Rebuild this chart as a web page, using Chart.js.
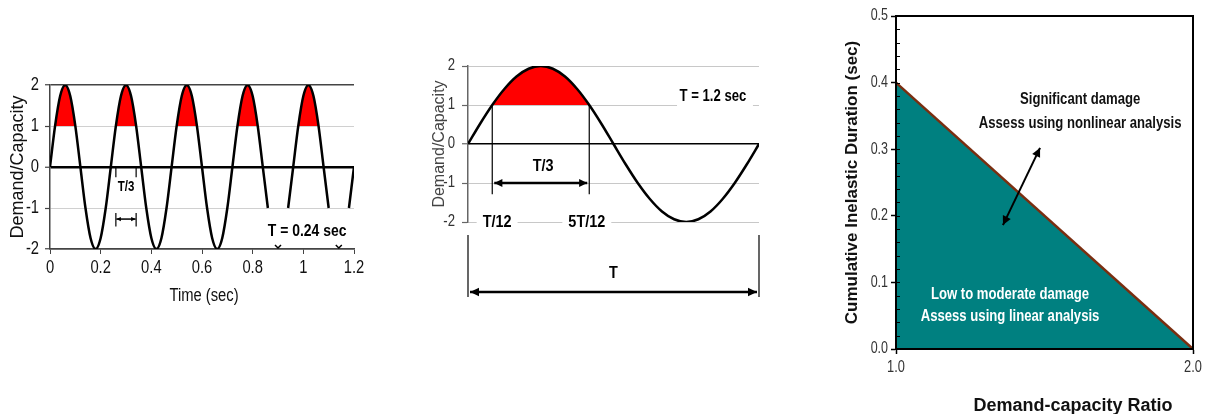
<!DOCTYPE html>
<html>
<head>
<meta charset="utf-8">
<script src="https://cdn.jsdelivr.net/npm/chart.js@4.4.1/dist/chart.umd.min.js"></script>
<style>
    html, body { margin: 0; padding: 0; background: #fff; }
    body { width: 1208px; height: 414px; position: relative; overflow: hidden; }
    canvas { position: absolute; }
    #short-period { left: 0; top: 60px; }
    #long-period { left: 420px; top: 40px; }
    #damage-chart { left: 820px; top: 0; }
</style>
</head>
<body>
<canvas id="short-period" width="370" height="250"></canvas>
<canvas id="long-period" width="380" height="270"></canvas>
<canvas id="damage-chart" width="388" height="414"></canvas>
<script>
const SANS = "'Liberation Sans', Arial, sans-serif";

// left chart, T = 0.24 sec
const timeA = [0, 0.02, 0.04, 0.06, 0.08, 0.1, 0.12, 0.14, 0.16, 0.18, 0.2, 0.22,
    0.24, 0.26, 0.28, 0.3, 0.32, 0.34, 0.36, 0.38, 0.4, 0.42, 0.44, 0.46,
    0.48, 0.5, 0.52, 0.54, 0.56, 0.58, 0.6, 0.62, 0.64, 0.66, 0.68, 0.7,
    0.72, 0.74, 0.76, 0.78, 0.8, 0.82, 0.84, 0.86, 0.88, 0.9, 0.92, 0.94,
    0.96, 0.98, 1, 1.02, 1.04, 1.06, 1.08, 1.1, 1.12, 1.14, 1.16, 1.18, 1.2];
const ratioA = [0, 1, 1.73, 2, 1.73, 1, 0, -1, -1.73, -2, -1.73, -1,
    0, 1, 1.73, 2, 1.73, 1, 0, -1, -1.73, -2, -1.73, -1,
    0, 1, 1.73, 2, 1.73, 1, 0, -1, -1.73, -2, -1.73, -1,
    0, 1, 1.73, 2, 1.73, 1, 0, -1, null, null, null, -1,
    0, 1, 1.73, 2, 1.73, 1, 0, -1, null, null, null, -1, 0];
const timeTicksA = [0, 0.2, 0.4, 0.6, 0.8, 1, 1.2];
const ratioTicks = [-2, -1, 0, 1, 2];

// middle chart, T = 1.2 sec
const timeB = [0, 0.05, 0.1, 0.15, 0.2, 0.25, 0.3, 0.35, 0.4, 0.45, 0.5, 0.55, 0.6,
    0.65, 0.7, 0.75, 0.8, 0.85, 0.9, 0.95, 1, 1.05, 1.1, 1.15, 1.2];
const ratioB = [0, 0.52, 1, 1.41, 1.73, 1.93, 2, 1.93, 1.73, 1.41, 1, 0.52, 0,
    -0.52, -1, -1.41, -1.73, -1.93, -2, -1.93, -1.73, -1.41, -1, -0.52, 0];

// right chart
const dcRatio = [1.0, 2.0];
const inelasticDur = [0.4, 0.0];
const dcTicks = [1.0, 2.0];
const durTicks = [0, 0.1, 0.2, 0.3, 0.4, 0.5];

function arrow(ctx, x1, y1, x2, y2, both, head) {
    ctx.beginPath();
    ctx.moveTo(x1, y1);
    ctx.lineTo(x2, y2);
    ctx.stroke();
    const a = Math.atan2(y2 - y1, x2 - x1);
    const tip = (x, y, ang) => {
        ctx.beginPath();
        ctx.moveTo(x, y);
        ctx.lineTo(x - head * Math.cos(ang - 0.45), y - head * Math.sin(ang - 0.45));
        ctx.lineTo(x - head * Math.cos(ang + 0.45), y - head * Math.sin(ang + 0.45));
        ctx.closePath();
        ctx.fill();
    };
    tip(x2, y2, a);
    if (both) tip(x1, y1, a + Math.PI);
}

// text squeezed sideways, the original figure uses a narrow face
function label(ctx, text, x, y, font, color, opts) {
    opts = opts || {};
    const sx = opts.sx || 0.82;
    ctx.save();
    ctx.font = font;
    ctx.textAlign = opts.align || "center";
    ctx.textBaseline = "middle";
    if (opts.pad) {
        const w = ctx.measureText(text).width * sx;
        ctx.fillStyle = "#fff";
        ctx.fillRect(x - w / 2 - opts.pad, y - 9, w + 2 * opts.pad, 18);
    }
    ctx.translate(x, y);
    ctx.scale(sx, 1);
    ctx.fillStyle = color || "#000";
    ctx.fillText(text, 0, 0);
    ctx.restore();
}

function tickLabels(ctx, scale, font, color, gap, sx, fmt) {
    scale.ticks.forEach((t) => {
        const p = scale.getPixelForValue(t.value);
        if (scale.isHorizontal()) {
            label(ctx, fmt(t.value), p, scale.top + gap, font, color, { sx });
        } else {
            label(ctx, fmt(t.value), scale.right - gap, p, font, color, { sx, align: "right" });
        }
    });
}

const setTicks = (arr) => (s) => { s.ticks = arr.map((v) => ({ value: v })); };

// ---------- left chart
const notesA = {
    id: "notesA",
    afterDatasetsDraw(chart) {
        const { ctx, scales: { x, y } } = chart;
        tickLabels(ctx, x, "18px " + SANS, "#111", 19, 0.82, (v) => String(v));
        tickLabels(ctx, y, "18px " + SANS, "#111", 11, 0.82, (v) => String(v));
        label(ctx, "Time (sec)", (x.left + x.right) / 2 + 2, x.top + 47, "18px " + SANS, "#111");

        ctx.save();
        ctx.strokeStyle = "#000";
        ctx.fillStyle = "#000";
        ctx.lineWidth = 1.2;
        [0.26, 0.34].forEach((t) => {
            const px = x.getPixelForValue(t);
            ctx.beginPath();
            ctx.moveTo(px, y.getPixelForValue(0));
            ctx.lineTo(px, y.getPixelForValue(-0.25));
            ctx.moveTo(px, y.getPixelForValue(-1.12));
            ctx.lineTo(px, y.getPixelForValue(-1.45));
            ctx.stroke();
        });
        ctx.lineWidth = 1.5;
        arrow(ctx, x.getPixelForValue(0.262), y.getPixelForValue(-1.27),
            x.getPixelForValue(0.338), y.getPixelForValue(-1.27), true, 5);
        label(ctx, "T/3", x.getPixelForValue(0.3), y.getPixelForValue(-0.48), "bold 14px " + SANS);
        label(ctx, "T = 0.24 sec", x.getPixelForValue(1.015), y.getPixelForValue(-1.58), "bold 17px " + SANS);
        [0.9, 1.14].forEach((t) => {
            const px = x.getPixelForValue(t);
            const py = y.getPixelForValue(-2);
            ctx.beginPath();
            ctx.moveTo(px - 3, py - 4);
            ctx.lineTo(px, py - 1);
            ctx.lineTo(px + 3, py - 4);
            ctx.stroke();
        });
        ctx.restore();
    },
};

new Chart(document.getElementById("short-period"), {
    type: "line",
    data: {
        datasets: [{
            data: timeA.map((t, i) => ({ x: t, y: ratioA[i] })),
            borderColor: "#000",
            borderWidth: 2.5,
            pointRadius: 0,
            cubicInterpolationMode: "monotone",
            spanGaps: false,
            fill: { target: { value: 1 }, above: "#ff0000", below: "rgba(0,0,0,0)" },
        }],
    },
    options: {
        responsive: false,
        animation: false,
        layout: { padding: { top: 25, right: 16, left: 0, bottom: 0 } },
        scales: {
            x: {
                type: "linear", min: 0, max: 1.2,
                afterBuildTicks: setTicks(timeTicksA),
                afterFit: (s) => { s.height = 61; },
                ticks: { display: false },
                grid: { drawOnChartArea: false, tickLength: 5, tickColor: "#444" },
                border: { display: true, color: "#444", width: 1.5 },
            },
            y: {
                min: -2, max: 2,
                afterBuildTicks: setTicks(ratioTicks),
                afterFit: (s) => { s.width = 50; },
                ticks: { display: false },
                grid: {
                    color: (c) => c.tick && c.tick.value === 0 ? "#000" : c.tick && Math.abs(c.tick.value) === 2 ? "#444" : "#d0d0d0",
                    lineWidth: (c) => c.tick && c.tick.value === 0 ? 2.5 : c.tick && Math.abs(c.tick.value) === 2 ? 1.5 : 1,
                    tickColor: "#444", tickWidth: 1.2, tickLength: 5,
                },
                border: { display: true, color: "#444", width: 1.5 },
                title: { display: true, text: "Demand/Capacity", font: { size: 18, family: SANS }, color: "#111", padding: { top: 7, bottom: 0 } },
            },
        },
        plugins: { legend: { display: false }, tooltip: { enabled: false } },
    },
    plugins: [notesA],
});

// ---------- middle chart
const notesB = {
    id: "notesB",
    afterDatasetsDraw(chart) {
        const { ctx, scales: { x, y } } = chart;
        tickLabels(ctx, y, "16px " + SANS, "#333", 13, 0.82, (v) => String(v));

        ctx.save();
        ctx.strokeStyle = "#000";
        ctx.fillStyle = "#000";
        ctx.lineWidth = 1.2;
        [0.1, 0.5].forEach((t) => {
            const px = x.getPixelForValue(t);
            ctx.beginPath();
            ctx.moveTo(px, y.getPixelForValue(1));
            ctx.lineTo(px, y.getPixelForValue(-1.29));
            ctx.stroke();
        });
        ctx.lineWidth = 2.5;
        arrow(ctx, x.getPixelForValue(0.1) + 2, y.getPixelForValue(-1), x.getPixelForValue(0.5) - 2, y.getPixelForValue(-1), true, 9);
        label(ctx, "T/3", x.getPixelForValue(0.31), y.getPixelForValue(-0.56), "bold 17px " + SANS, "#000", { sx: 0.85 });
        label(ctx, "T/12", x.getPixelForValue(0.12), y.getPixelForValue(-2), "bold 17px " + SANS, "#000", { sx: 0.85, pad: 6 });
        label(ctx, "5T/12", x.getPixelForValue(0.49), y.getPixelForValue(-2), "bold 17px " + SANS, "#000", { sx: 0.85, pad: 6 });
        const bx1 = x.getPixelForValue(0.862), bx2 = x.getPixelForValue(1.175);
        ctx.fillStyle = "#fff";
        ctx.fillRect(bx1, y.getPixelForValue(1.45), bx2 - bx1, y.getPixelForValue(0.9) - y.getPixelForValue(1.45));
        label(ctx, "T = 1.2 sec", x.getPixelForValue(1.01), y.getPixelForValue(1.22), "bold 16px " + SANS);

        const b = y.bottom;
        ctx.strokeStyle = "#000";
        ctx.fillStyle = "#000";
        ctx.lineWidth = 1.2;
        [0, 1.2].forEach((t) => {
            const px = x.getPixelForValue(t);
            ctx.beginPath();
            ctx.moveTo(px, b + 13);
            ctx.lineTo(px, b + 75);
            ctx.stroke();
        });
        ctx.lineWidth = 2.5;
        arrow(ctx, x.getPixelForValue(0) + 2, b + 70, x.getPixelForValue(1.2) - 2, b + 70, true, 10);
        label(ctx, "T", x.getPixelForValue(0.6), b + 51, "bold 17px " + SANS, "#000", { sx: 0.85 });
        ctx.restore();
    },
};

new Chart(document.getElementById("long-period"), {
    type: "line",
    data: {
        datasets: [{
            data: timeB.map((t, i) => ({ x: t, y: ratioB[i] })),
            borderColor: "#000",
            borderWidth: 2.5,
            pointRadius: 0,
            cubicInterpolationMode: "monotone",
            fill: { target: { value: 1 }, above: "#ff0000", below: "rgba(0,0,0,0)" },
        }],
    },
    options: {
        responsive: false,
        animation: false,
        layout: { padding: { top: 26, right: 41, left: 0, bottom: 88 } },
        scales: {
            x: { type: "linear", min: 0, max: 1.2, display: false },
            y: {
                min: -2, max: 2,
                afterBuildTicks: setTicks(ratioTicks),
                afterFit: (s) => { s.width = 48; },
                ticks: { display: false },
                grid: {
                    color: (c) => c.tick && c.tick.value === 0 ? "#000" : "#c8c8c8",
                    lineWidth: (c) => c.tick && c.tick.value === 0 ? 1.5 : 1,
                    tickColor: "#666", tickWidth: 1.2, tickLength: 6,
                },
                border: { display: true, color: "#666", width: 1.5 },
                title: { display: true, text: "Demand/Capacity", font: { size: 16, family: SANS }, color: "#444", padding: { top: 10, bottom: 0 } },
            },
        },
        plugins: { legend: { display: false }, tooltip: { enabled: false } },
    },
    plugins: [notesB],
});

// ---------- right chart
const notesC = {
    id: "notesC",
    afterDatasetsDraw(chart) {
        const { ctx, chartArea: a, scales: { x, y } } = chart;
        ctx.save();
        ctx.strokeStyle = "#000";
        ctx.lineWidth = 2;
        ctx.strokeRect(a.left, a.top, a.right - a.left, a.bottom - a.top);
        ctx.lineWidth = 1;
        for (let v = 0.02; v < 0.5; v += 0.02) {
            const py = Math.round(y.getPixelForValue(v)) + 0.5;
            ctx.beginPath();
            ctx.moveTo(a.left, py);
            ctx.lineTo(a.left + 4, py);
            ctx.stroke();
        }
        ctx.fillStyle = "#000";
        ctx.lineWidth = 2;
        arrow(ctx, x.getPixelForValue(1.36), y.getPixelForValue(0.186), x.getPixelForValue(1.485), y.getPixelForValue(0.302), true, 10);
        ctx.restore();

        tickLabels(ctx, x, "16px " + SANS, "#333", 19, 0.8, (v) => v.toFixed(1));
        tickLabels(ctx, y, "16px " + SANS, "#333", 8, 0.78, (v) => v.toFixed(1));
        const f = "bold 16px " + SANS;
        label(ctx, "Significant damage", x.getPixelForValue(1.62), y.getPixelForValue(0.374), f, "#111");
        label(ctx, "Assess using nonlinear analysis", x.getPixelForValue(1.62), y.getPixelForValue(0.339), f, "#111");
        label(ctx, "Low to moderate damage", x.getPixelForValue(1.384), y.getPixelForValue(0.081), f, "#fff");
        label(ctx, "Assess using linear analysis", x.getPixelForValue(1.384), y.getPixelForValue(0.048), f, "#fff");
        label(ctx, "Demand-capacity Ratio", x.getPixelForValue(1.596), a.bottom + 57, "bold 18px " + SANS, "#111", { sx: 1 });
    },
};

new Chart(document.getElementById("damage-chart"), {
    type: "line",
    data: {
        datasets: [{
            data: dcRatio.map((r, i) => ({ x: r, y: inelasticDur[i] })),
            borderColor: "#7a2e10",
            borderWidth: 2.5,
            backgroundColor: "#008080",
            pointRadius: 0,
            fill: "origin",
        }],
    },
    options: {
        responsive: false,
        animation: false,
        layout: { padding: { top: 16, right: 15, left: 0, bottom: 0 } },
        scales: {
            x: {
                type: "linear", min: 1, max: 2,
                afterBuildTicks: setTicks(dcTicks),
                afterFit: (s) => { s.height = 65; },
                ticks: { display: false },
                grid: { drawOnChartArea: false, tickLength: 5, tickColor: "#000", tickWidth: 1.5 },
                border: { display: true, color: "#000", width: 2 },
            },
            y: {
                min: 0, max: 0.5,
                afterBuildTicks: setTicks(durTicks),
                afterFit: (s) => { s.width = 76; },
                ticks: { display: false },
                grid: { drawOnChartArea: false, tickLength: 5, tickColor: "#000", tickWidth: 1.5 },
                border: { display: true, color: "#000", width: 2 },
                title: { display: true, text: "Cumulative Inelastic Duration (sec)", font: { size: 17, weight: "bold", family: SANS }, color: "#111", padding: { top: 22, bottom: 0 } },
            },
        },
        plugins: { legend: { display: false }, tooltip: { enabled: false } },
    },
    plugins: [notesC],
});
</script>
</body>
</html>
